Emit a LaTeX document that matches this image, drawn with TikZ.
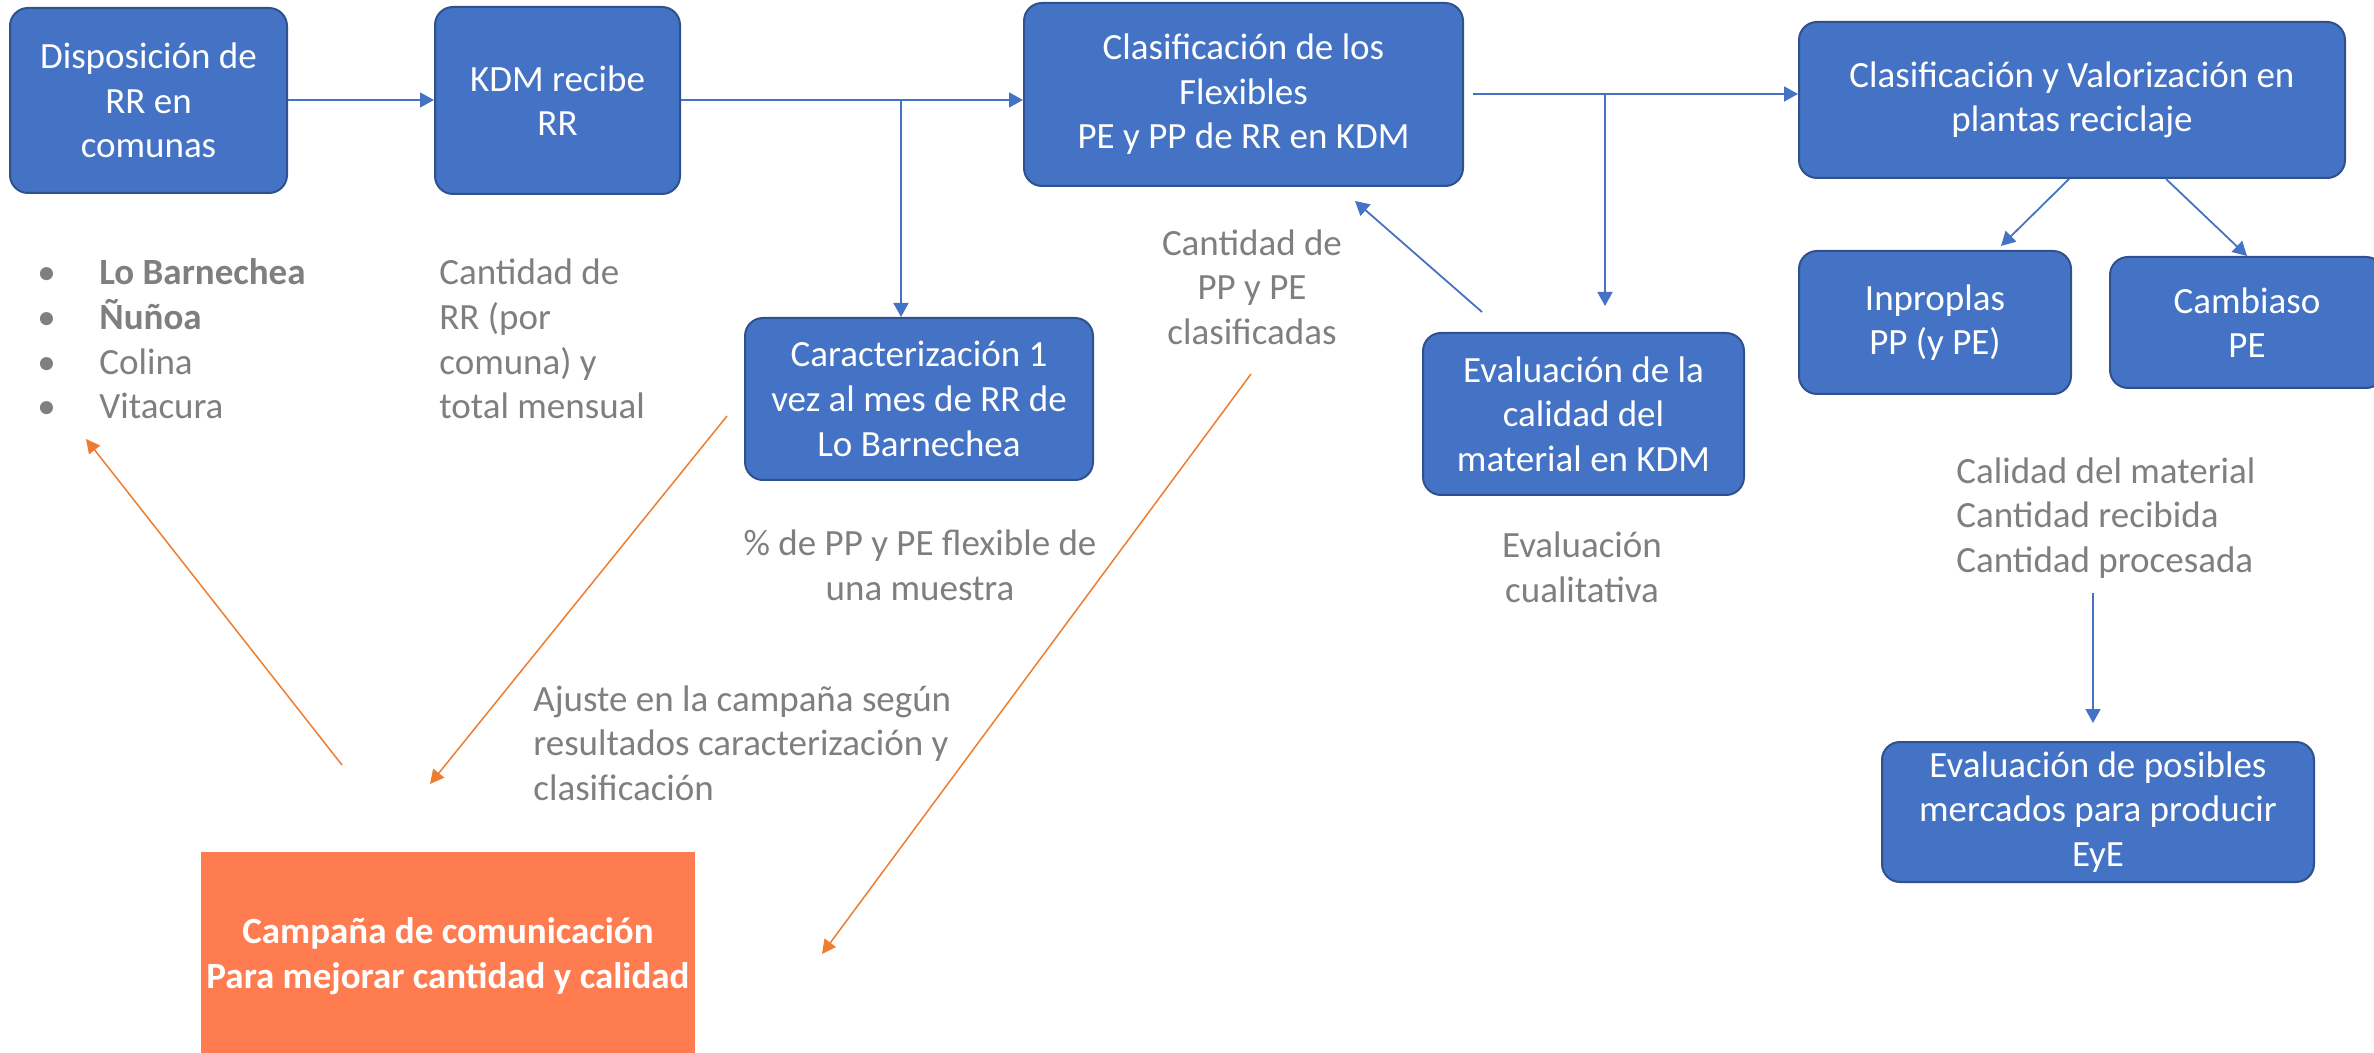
\documentclass[tikz,border=0pt]{standalone}
\usepackage{fontspec}
\setmainfont{Carlito}
\usetikzlibrary{arrows.meta}
\definecolor{blueF}{HTML}{4472C4}
\definecolor{blueD}{HTML}{2F528F}
\definecolor{orangeL}{HTML}{ED7D31}
\definecolor{orangeF}{HTML}{FF7C50}
\definecolor{grayT}{HTML}{7F7F7F}
\begin{document}
\begin{tikzpicture}[x=0.5pt,y=-0.5pt,
  every node/.style={font=\fontsize{18.5pt}{22.3pt}\selectfont},
  bluebox/.style={rectangle, rounded corners=9pt, fill=blueF, draw=blueD, line width=1pt, text=white, align=center, inner sep=0pt},
  orangebox/.style={rectangle, fill=orangeF, draw=none, text=white, align=center, inner sep=0pt, font=\fontsize{18.5pt}{22.3pt}\selectfont\bfseries},
  graylabel/.style={text=grayT, inner sep=0pt},
  barrow/.style={draw=blueF, line width=0.9pt, -{Triangle[length=7pt,width=7.5pt]}},
  oarrow/.style={draw=orangeL, line width=0.75pt, -{Triangle[length=7pt,width=7pt]}}]
\useasboundingbox (0,0) rectangle (2374,1053);

% boxes
\node[bluebox, minimum width=138.5pt, minimum height=92.5pt] (A) at (148.5,100.5) {Disposición de\\RR en\\comunas};
\node[bluebox, minimum width=122.5pt, minimum height=93.5pt] (B) at (557.5,100.5) {KDM recibe\\RR};
\node[bluebox, minimum width=219.5pt, minimum height=91.5pt] (C) at (1243.5,94.5) {Clasificación de los\\Flexibles\\PE y PP de RR en KDM};
\node[bluebox, minimum width=174pt, minimum height=81pt] (D) at (919,399) {Caracterización 1\\vez al mes de RR de\\Lo Barnechea};
\node[bluebox, minimum width=273pt, minimum height=78pt] (E) at (2072,100) {Clasificación y Valorización en\\plantas reciclaje};
\node[bluebox, minimum width=160.5pt, minimum height=81pt] (F) at (1583.5,414) {Evaluación de la\\calidad del\\material en KDM};
\node[bluebox, minimum width=136pt, minimum height=71.5pt] (G) at (1935,322.5) {Inproplas\\PP (y PE)};
\node[bluebox, minimum width=137pt, minimum height=65.5pt] (H) at (2247,322.5) {Cambiaso\\PE};
\node[bluebox, minimum width=216pt, minimum height=70pt] (I) at (2098,812) {Evaluación de posibles\\mercados para producir\\EyE};
\node[orangebox, minimum width=247pt, minimum height=104pt] (J) at (448,956) {Campaña de comunicación\\Para mejorar cantidad y calidad};

% gray labels
\node[graylabel, anchor=west, align=left] (L1) at (45,339) {\makebox[27pt][l]{\hspace{-4pt}•}\textbf{Lo Barnechea}\\\makebox[27pt][l]{\hspace{-4pt}•}\textbf{Ñuñoa}\\\makebox[27pt][l]{\hspace{-4pt}•}Colina\\\makebox[27pt][l]{\hspace{-4pt}•}Vitacura};
\node[graylabel, anchor=west, align=left] (L2) at (439,339) {Cantidad de\\RR (por\\comuna) y\\total mensual};
\node[graylabel, align=center] (L3) at (920,565) {\% de PP y PE flexible de\\una muestra};
\node[graylabel, align=center] (L4) at (1252,287) {Cantidad de\\PP y PE\\clasificadas};
\node[graylabel, align=center] (L5) at (1582,567) {Evaluación\\cualitativa};
\node[graylabel, anchor=west, align=left] (L6) at (1956,518) {Calidad del material\\Cantidad recibida\\Cantidad procesada};
\node[graylabel, anchor=west, align=left] (L7) at (533,743) {Ajuste en la campaña según\\resultados caracterización y\\clasificación};

% blue connectors
\draw[barrow] (A.east |- 0,100) -- (B.west |- 0,100);
\draw[barrow] (B.east |- 0,100) -- (C.west |- 0,100);
\coordinate (bd) at (901,100);
\draw[barrow] (bd) -- (bd |- D.north);
\coordinate (ce) at (1473,94);
\draw[barrow] (ce) -- (ce -| E.west);
\coordinate (cf) at (1605,94);
\coordinate (ftop) at (1605,306);
\draw[barrow] (cf) -- (ftop);
\coordinate (f1) at (1482,312);
\coordinate (c1) at (1355,201);
\draw[barrow] (f1) -- (c1);
\coordinate (eg1) at (2069,179);
\coordinate (eg2) at (2001,246);
\draw[barrow] (eg1) -- (eg2);
\coordinate (eh1) at (2166,179);
\draw[barrow] (eh1) -- (H.north);
\coordinate (li1) at (2093,593);
\coordinate (li2) at (2093,723);
\draw[barrow] (li1) -- (li2);

% orange connectors
\coordinate (o1a) at (342,765);
\coordinate (o1b) at (86,439);
\draw[oarrow] (o1a) -- (o1b);
\coordinate (o2a) at (727,416);
\coordinate (o2b) at (430,784);
\draw[oarrow] (o2a) -- (o2b);
\coordinate (o3a) at (1251,374);
\coordinate (o3b) at (822,954);
\draw[oarrow] (o3a) -- (o3b);
\end{tikzpicture}
\end{document}
